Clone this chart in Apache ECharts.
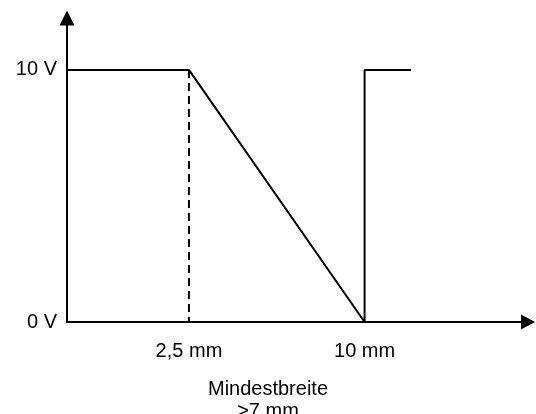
<!DOCTYPE html>
<html>
<head>
<meta charset="utf-8">
<script src="https://cdn.jsdelivr.net/npm/echarts@6/dist/echarts.min.js"></script>
<style>
  html, body { margin: 0; padding: 0; background: #fff; }
  #chart { width: 536px; height: 414px; }
</style>
</head>
<body>
<div id="chart"></div>
<script>
// schematic x positions (the drawing is not to scale)
var stepX = [0, 2.5, 6.1, 6.1, 7.05];
var stepY = [10, 10, 0, 10, 10];
var dashX = [2.5, 2.5];
var dashY = [10, 0];
var xTickPos = [2.5, 6.1];
var xTickLabels = ['2,5 mm', '10 mm'];
var yTickPos = [0, 10];
var yTickLabels = ['0 V', '10 V'];
var axisTitle = 'Mindestbreite\n>7 mm';

window.onload = () => {
    var myChart = echarts.init(document.getElementById('chart'));
    var font = 'Liberation Sans, Arial, sans-serif';
    myChart.setOption({
        animation: false,
        grid: { left: 67, right: 8, top: 18, bottom: 92 },
        xAxis: {
            type: 'value',
            min: 0,
            max: 9.45,
            splitLine: { show: false },
            axisTick: { show: false },
            axisLine: {
                lineStyle: { color: '#000', width: 2 },
                symbol: ['none', 'triangle'],
                symbolSize: [15, 14]
            },
            axisLabel: {
                customValues: xTickPos,
                formatter: function (v) {
                    return xTickLabels[xTickPos.indexOf(v)];
                },
                color: '#000',
                fontFamily: font,
                fontSize: 20,
                margin: 19
            }
        },
        yAxis: {
            type: 'value',
            min: 0,
            max: 12.06,
            splitLine: { show: false },
            axisTick: { show: false },
            axisLine: {
                show: true,
                lineStyle: { color: '#000', width: 2 },
                symbol: ['none', 'triangle'],
                symbolSize: [15, 15]
            },
            axisLabel: {
                customValues: yTickPos,
                formatter: function (v) {
                    return yTickLabels[yTickPos.indexOf(v)];
                },
                color: '#000',
                fontFamily: font,
                fontSize: 20,
                margin: 10
            }
        },
        graphic: [{
            type: 'text',
            x: 268,
            y: 378,
            style: {
                text: axisTitle,
                textAlign: 'center',
                fill: '#000',
                font: '20px ' + font,
                lineHeight: 22
            }
        }],
        series: [
            {
                type: 'line',
                data: stepX.map((x, i) => [x, stepY[i]]),
                symbol: 'none',
                lineStyle: { color: '#000', width: 2 }
            },
            {
                type: 'line',
                data: dashX.map((x, i) => [x, dashY[i]]),
                symbol: 'none',
                lineStyle: { color: '#000', width: 2, type: [8, 5] }
            }
        ]
    });
};
</script>
</body>
</html>
